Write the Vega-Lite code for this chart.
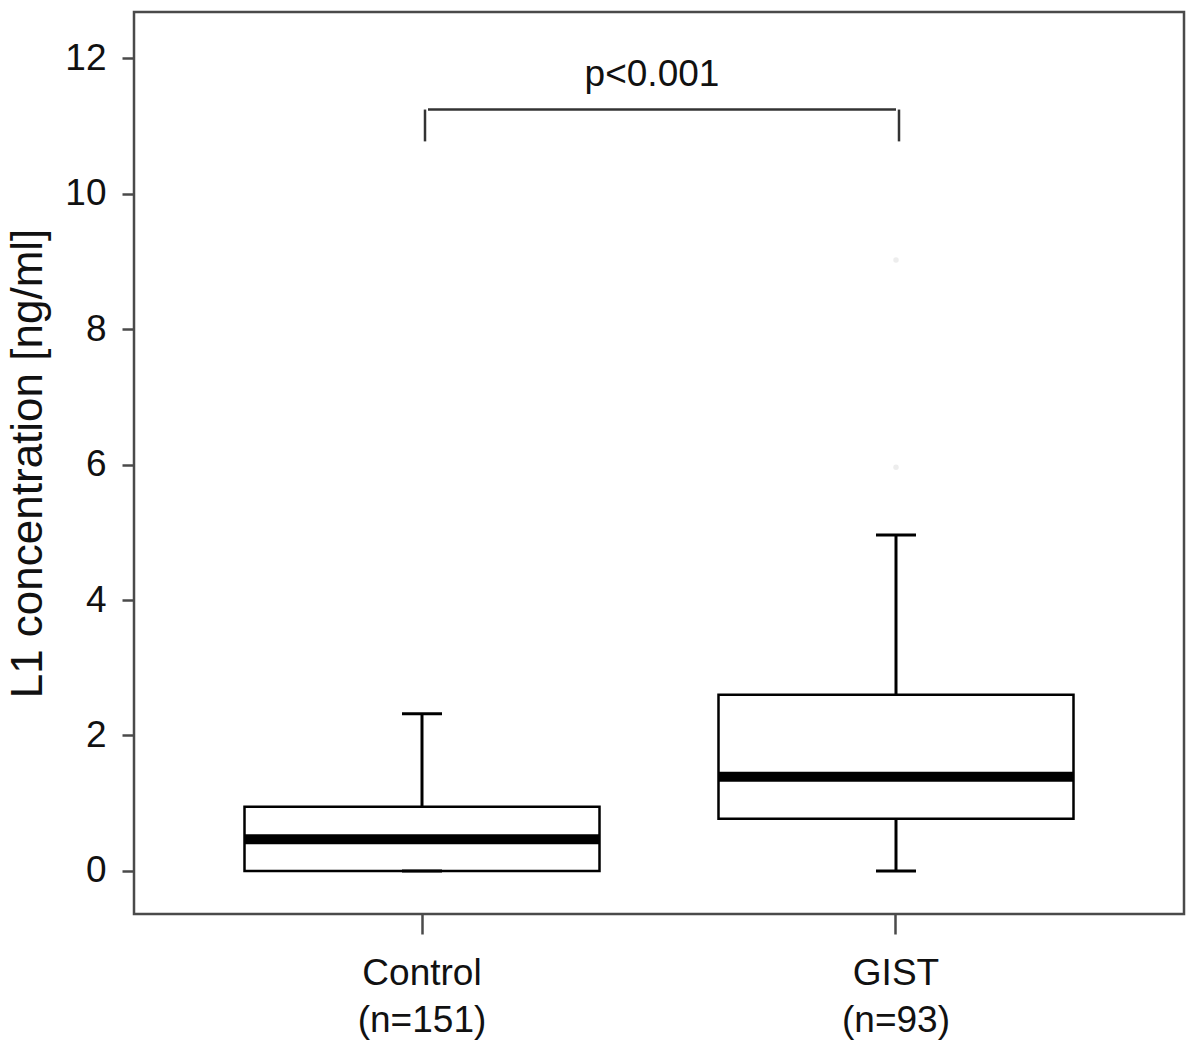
{
  "$schema": "https://vega.github.io/schema/vega-lite/v6.json",
  "width": 1050,
  "height": 902,
  "autosize": {"type": "none"},
  "padding": {"left": 134, "top": 12, "right": 16, "bottom": 133},
  "background": "white",
  "config": {
    "view": {"stroke": "#4a4a4a", "strokeWidth": 2.5},
    "font": "Liberation Sans",
    "axis": {"grid": false, "domain": false, "labelFont": "Liberation Sans", "titleFont": "Liberation Sans", "labelColor": "#111", "titleColor": "#111", "tickColor": "#4a4a4a", "tickWidth": 2.5}
  },
  "datasets": {
    "boxes": [
      {"group": "Control", "lower": 0, "q1": 0, "median": 0.47, "q3": 0.95, "upper": 2.32},
      {"group": "GIST", "lower": 0, "q1": 0.77, "median": 1.39, "q3": 2.6, "upper": 4.96}
    ],
    "outliers": [
      {"group": "GIST", "value": 9.02},
      {"group": "GIST", "value": 5.96}
    ],
    "bracket": [
      {"from": "Control", "to": "GIST", "top": 11.24, "label": "p<0.001"}
    ],
    "legs": [
      {"group": "Control", "top": 11.24, "bottom": 10.77},
      {"group": "GIST", "top": 11.24, "bottom": 10.77}
    ]
  },
  "layer": [
    {
      "data": {"name": "boxes"},
      "mark": {"type": "rule", "color": "black", "strokeWidth": 3},
      "encoding": {
        "x": {
          "field": "group", "type": "nominal", "sort": ["Control", "GIST"],
          "scale": {"domain": ["Control", "GIST"], "paddingInner": 0, "paddingOuter": 0.1076},
          "axis": {
            "title": null, "labelAngle": 0, "labelFontSize": 37, "tickSize": 20, "labelPadding": 21,
            "labelLineHeight": 47, "labelBaseline": "top",
            "labelExpr": "datum.value == 'Control' ? ['Control', '(n=151)'] : ['GIST', '(n=93)']"
          }
        },
        "y": {
          "field": "lower", "type": "quantitative",
          "scale": {"domain": [-0.635, 12.68], "nice": false, "zero": false},
          "axis": {
            "title": "L1 concentration [ng/ml]", "titleFontSize": 44, "titleFontWeight": "normal", "titlePadding": 14,
            "values": [0, 2, 4, 6, 8, 10, 12], "format": "d", "labelFontSize": 37, "tickSize": 12, "labelPadding": 16
          }
        },
        "y2": {"field": "upper"}
      }
    },
    {
      "data": {"name": "boxes"},
      "mark": {"type": "bar", "size": 355, "fill": "white", "stroke": "black", "strokeWidth": 2.5},
      "encoding": {
        "x": {"field": "group", "type": "nominal"},
        "y": {"field": "q1", "type": "quantitative"},
        "y2": {"field": "q3"}
      }
    },
    {
      "data": {"name": "boxes"},
      "mark": {"type": "tick", "size": 355, "thickness": 10, "color": "black", "opacity": 1},
      "encoding": {
        "x": {"field": "group", "type": "nominal"},
        "y": {"field": "median", "type": "quantitative"}
      }
    },
    {
      "data": {"name": "boxes"},
      "mark": {"type": "tick", "size": 40, "thickness": 3, "color": "black", "opacity": 1},
      "encoding": {
        "x": {"field": "group", "type": "nominal"},
        "y": {"field": "upper", "type": "quantitative"}
      }
    },
    {
      "data": {"name": "boxes"},
      "mark": {"type": "tick", "size": 40, "thickness": 3, "color": "black", "opacity": 1},
      "encoding": {
        "x": {"field": "group", "type": "nominal"},
        "y": {"field": "lower", "type": "quantitative"}
      }
    },
    {
      "data": {"name": "outliers"},
      "mark": {"type": "point", "filled": true, "size": 30, "color": "#e6e6e6"},
      "encoding": {
        "x": {"field": "group", "type": "nominal"},
        "y": {"field": "value", "type": "quantitative"}
      }
    },
    {
      "data": {"name": "bracket"},
      "mark": {"type": "rule", "color": "#333", "strokeWidth": 2.5, "xOffset": 6},
      "encoding": {
        "x": {"field": "from", "type": "nominal"},
        "x2": {"field": "to"},
        "y": {"field": "top", "type": "quantitative"}
      }
    },
    {
      "data": {"name": "legs"},
      "mark": {"type": "rule", "color": "#333", "strokeWidth": 2.5, "xOffset": 3},
      "encoding": {
        "x": {"field": "group", "type": "nominal"},
        "y": {"field": "top", "type": "quantitative"},
        "y2": {"field": "bottom"}
      }
    },
    {
      "data": {"name": "bracket"},
      "mark": {"type": "text", "fontSize": 37, "color": "#111", "baseline": "alphabetic", "dx": -7, "dy": -24},
      "encoding": {
        "x": {"field": "from", "type": "nominal", "bandPosition": 1},
        "y": {"field": "top", "type": "quantitative"},
        "text": {"field": "label"}
      }
    }
  ]
}
